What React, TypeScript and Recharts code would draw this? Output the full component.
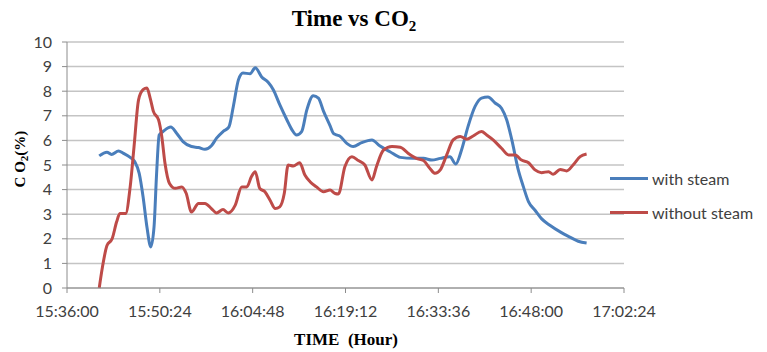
import React from "react";
import { LineChart, Line, XAxis, YAxis, CartesianGrid, Label } from "recharts";

// Clock labels shown along the time axis (every 14 min 24 s)
const timeTicks = ["15:36:00", "15:50:24", "16:04:48", "16:19:12", "16:33:36", "16:48:00", "17:02:24"];
const pctTicks = [0, 1, 2, 3, 4, 5, 6, 7, 8, 9, 10];

// Minutes elapsed since 15:36:00 and CO2 (%) readings
const withSteamMin = [
  5.0, 6.2, 6.9, 8.0, 8.7, 9.8, 10.5, 11.2, 11.8, 12.4, 13.0, 13.5, 13.9, 14.3, 14.9, 16.1, 17.0, 18.0,
  19.3, 20.4, 21.4, 22.4, 23.2, 24.2, 25.1, 25.8, 26.6, 27.3, 28.4, 29.2, 30.2, 31.2, 32.0, 33.0, 34.1,
  34.9, 35.6, 36.4, 37.2, 38.2, 39.0, 39.8, 40.8, 41.3, 41.8, 42.3, 43.4, 44.4, 45.7, 47.3, 48.5, 50.1,
  51.7, 53.7, 55.3, 56.6, 57.9, 59.4, 60.3, 61.2, 62.2, 63.3, 64.3, 65.3, 66.4, 67.4, 68.2, 69.0, 70.0,
  70.8, 71.6, 72.6, 73.6, 74.9, 76.5, 78.0, 79.3, 80.6,
];
const withSteamPct = [
  5.37, 5.52, 5.43, 5.57, 5.48, 5.31, 5.14, 4.66, 3.71, 2.48, 1.67, 2.48, 4.66, 6.22, 6.36, 6.54, 6.29, 5.95,
  5.75, 5.71, 5.64, 5.78, 6.09, 6.36, 6.54, 7.38, 8.47, 8.74, 8.71, 8.95, 8.58, 8.36, 8.06, 7.45, 6.84,
  6.43, 6.22, 6.36, 7.24, 7.82, 7.72, 7.18, 6.6, 6.29, 6.22, 6.18, 5.88, 5.75, 5.91, 6.02, 5.78, 5.54,
  5.31, 5.27, 5.27, 5.2, 5.27, 5.34, 5.04, 5.61, 6.56, 7.38, 7.72, 7.76, 7.52, 7.31, 6.84, 6.02, 4.8,
  4.11, 3.5, 3.16, 2.82, 2.55, 2.28, 2.07, 1.9, 1.83,
];

const withoutSteamMin = [
  5.0, 5.5, 6.2, 7.0, 7.7, 8.2, 9.1, 9.8, 10.4, 11.1, 11.8, 12.4, 12.9, 13.4, 14.2, 14.7, 15.2, 15.9, 16.8,
  17.8, 18.5, 19.3, 20.4, 21.4, 22.4, 23.2, 24.2, 25.0, 26.1, 27.1, 27.9, 28.6, 29.2, 29.9, 30.7, 31.5,
  32.3, 33.0, 33.7, 34.3, 35.1, 36.1, 36.9, 37.7, 38.7, 39.8, 40.8, 41.6, 42.1, 43.1, 44.2, 45.2, 46.2,
  47.3, 48.0, 49.1, 50.4, 51.7, 52.9, 54.2, 55.3, 56.3, 57.1, 57.9, 58.9, 59.9, 61.0, 62.0, 63.0, 64.3,
  65.1, 66.1, 67.4, 68.5, 69.5, 70.5, 71.6, 72.6, 73.6, 74.7, 75.4, 76.5, 77.5, 78.5, 79.6, 80.6,
];
const withoutSteamPct = [
  0.0, 0.85, 1.73, 2.0, 2.69, 3.03, 3.03, 4.11, 5.75, 7.65, 8.06, 8.13, 7.72, 7.18, 6.84, 6.16, 5.07, 4.25, 4.05,
  4.11, 3.84, 3.09, 3.44, 3.44, 3.23, 3.05, 3.19, 3.05, 3.37, 4.11, 4.11, 4.52, 4.73, 4.05, 3.91, 3.57,
  3.23, 3.3, 3.84, 5.0, 4.96, 5.09, 4.59, 4.32, 4.11, 3.91, 3.98, 3.84, 3.82, 4.93, 5.34, 5.18, 5.0,
  4.39, 4.93, 5.61, 5.75, 5.72, 5.48, 5.27, 5.18, 4.86, 4.66, 4.8, 5.41, 6.02, 6.16, 6.05, 6.18, 6.36,
  6.22, 6.02, 5.68, 5.41, 5.41, 5.2, 5.09, 4.8, 4.69, 4.73, 4.62, 4.82, 4.76, 5.0, 5.34, 5.45,
];

const seriesNames = ["with steam", "without steam"];

const toMinutes = (hms: string) => {
  const [h, m, s] = hms.split(":").map(Number);
  return h * 60 + m + s / 60;
};
const startMin = toMinutes(timeTicks[0]);
const tickPositions = timeTicks.map((t) => toMinutes(t) - startMin);
const formatClock = (v: number) => {
  const idx = tickPositions.findIndex((p) => Math.abs(p - v) < 1e-6);
  return idx >= 0 ? timeTicks[idx] : "";
};

const withSteam = withSteamMin.map((t, i) => ({ t, v: withSteamPct[i] }));
const withoutSteam = withoutSteamMin.map((t, i) => ({ t, v: withoutSteamPct[i] }));

const BLUE = "#4A7EBB";
const RED = "#BE4B48";
const SANS = "Lato, 'Open Sans', sans-serif";
const SERIF = "'Liberation Serif', 'DejaVu Serif', serif";

const legendItems = [
  { name: seriesNames[0], color: BLUE },
  { name: seriesNames[1], color: RED },
];

const LegendBox = () => (
  <div
    style={{
      position: "absolute",
      left: 610,
      top: 161,
      fontFamily: SANS,
      fontSize: 16,
      color: "#404040",
      whiteSpace: "nowrap",
    }}
  >
    {legendItems.map((it) => (
      <div key={it.name} style={{ display: "flex", alignItems: "center", height: 34 }}>
        <div style={{ width: 38, height: 3, background: it.color, marginRight: 4 }} />
        <span>{it.name}</span>
      </div>
    ))}
  </div>
);

export default function App() {
  return (
    <div style={{ position: "absolute", left: 0, top: 0, width: 767, height: 352, background: "#fff" }}>
      <LineChart
        width={767}
        height={352}
        margin={{ top: 42, right: 143, bottom: 0, left: 0 }}
        style={{ position: "absolute", left: 0, top: 0 }}
      >
        <CartesianGrid vertical={false} stroke="#c4c4c4" strokeWidth={1.5} />
        <XAxis
          type="number"
          dataKey="t"
          domain={[0, tickPositions[tickPositions.length - 1]]}
          ticks={tickPositions}
          tickFormatter={formatClock}
          allowDataOverflow
          stroke="#8c8c8c"
          tickSize={5}
          tickMargin={13}
          tick={{ fill: "#404040", fontSize: 16, fontFamily: SANS }}
          interval={0}
          height={64}
        >
          <Label
            content={() => (
              <text x={346} y={345} textAnchor="middle" fontFamily={SERIF} fontWeight="bold" fontSize={17} fill="#000">
                {"TIME\u00a0\u00a0(Hour)"}
              </text>
            )}
          />
        </XAxis>
        <YAxis
          type="number"
          domain={[0, 10]}
          ticks={pctTicks}
          width={67}
          stroke="#8c8c8c"
          tickSize={5}
          tickMargin={10}
          tick={{ fill: "#404040", fontSize: 16, fontFamily: SANS }}
          interval={0}
        >
          <Label
            content={() => (
              <text
                transform="rotate(-90)"
                x={-159}
                y={25}
                textAnchor="middle"
                fontFamily={SERIF}
                fontWeight="bold"
                fontSize={15}
                fill="#000"
              >
                C O<tspan fontSize={11} dy={3}>2</tspan>
                <tspan dy={-3}>(%)</tspan>
              </text>
            )}
          />
        </YAxis>
        <Line
          data={withSteam}
          dataKey="v"
          name={seriesNames[0]}
          type="monotone"
          stroke={BLUE}
          strokeWidth={3}
          dot={false}
          isAnimationActive={false}
        />
        <Line
          data={withoutSteam}
          dataKey="v"
          name={seriesNames[1]}
          type="monotone"
          stroke={RED}
          strokeWidth={3}
          dot={false}
          isAnimationActive={false}
        />
      </LineChart>
      <svg width={767} height={40} style={{ position: "absolute", left: 0, top: 0 }}>
        <text x={354} y={26} textAnchor="middle" fontFamily={SERIF} fontWeight="bold" fontSize={23} fill="#000">
          Time vs CO
          <tspan fontSize={15} dy={5}>2</tspan>
        </text>
      </svg>
      <LegendBox />
    </div>
  );
}
